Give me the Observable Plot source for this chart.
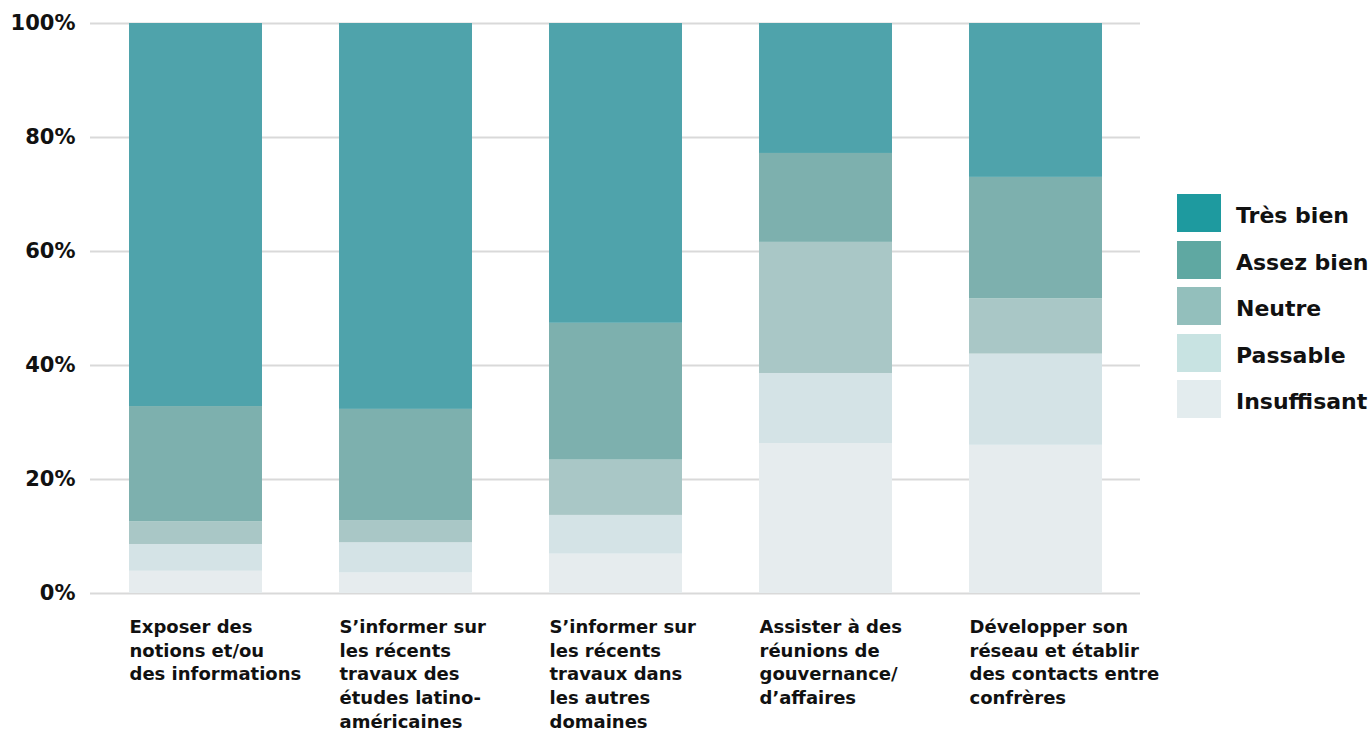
<!DOCTYPE html>
<html>
<head>
<meta charset="utf-8">
<script src="https://cdn.jsdelivr.net/npm/d3@7"></script>
<script src="https://cdn.jsdelivr.net/npm/@observablehq/plot@0.6"></script>
<style>
  html, body { margin: 0; padding: 0; background: #fff; }
  #wrap { position: relative; width: 1371px; height: 731px; font-family: "DejaVu Sans", sans-serif; }
  #legend { position: absolute; left: 1177px; top: 194px; }
  .item { display: flex; align-items: center; height: 38px; margin-bottom: 8.5px; }
  .sw { width: 44px; height: 38px; margin-right: 15px; }
  .lab { font-size: 22px; font-weight: bold; color: #111; white-space: nowrap; padding-top: 5px; }
</style>
</head>
<body>
<div id="wrap"><div id="chart"></div><div id="legend"></div></div>
<script>
const categories = [
  "Exposer des\nnotions et/ou\ndes informations",
  "S’informer sur\nles récents\ntravaux des\nétudes latino-\naméricaines",
  "S’informer sur\nles récents\ntravaux dans\nles autres\ndomaines",
  "Assister à des\nréunions de\ngouvernance/\nd’affaires",
  "Développer son\nréseau et établir\ndes contacts entre\nconfrères"
];
const levels = ["Insuffisant", "Passable", "Neutre", "Assez bien", "Très bien"];
const insuffisant = [3.9, 3.6, 6.9, 26.3, 26.0];
const passable    = [4.7, 5.3, 6.8, 12.3, 16.0];
const neutre      = [4.0, 3.9, 9.7, 23.0, 9.7];
const assezBien   = [20.2, 19.5, 24.0, 15.6, 21.3];
const tresBien    = [67.2, 67.7, 52.6, 22.8, 27.0];
const yTicks = [0, 20, 40, 60, 80, 100];

const barColors    = ["#e6ecee", "#d4e3e6", "#a9c7c6", "#7db0ae", "#4fa3ab"];
const legendColors = ["#e3ecee", "#c8e3e2", "#93bfbc", "#5fa8a2", "#1e9a9f"];

const series = [insuffisant, passable, neutre, assezBien, tresBien];
const rows = [];
categories.forEach((c, i) => levels.forEach((l, j) => rows.push({category: c, level: l, value: series[j][i]})));

const chart = Plot.plot({
  width: 1160,
  height: 731,
  marginLeft: 90,
  marginRight: 20,
  marginTop: 23,
  marginBottom: 138,
  style: {fontFamily: "DejaVu Sans, sans-serif", background: "#fff", color: "#111"},
  x: {domain: categories, paddingInner: 0.367, paddingOuter: 0.18, label: null},
  y: {domain: [0, 100], label: null},
  color: {domain: levels, range: barColors},
  marks: [
    Plot.ruleY(yTicks, {stroke: "#d9d9d9", strokeWidth: 2}),
    Plot.barY(rows, {x: "category", y: "value", fill: "level", order: levels}),
    Plot.axisY(yTicks, {tickSize: 0, tickPadding: 15, tickFormat: d => d + "%", fontSize: 21, fontWeight: "bold"}),
    Plot.axisX({tickSize: 0, tickPadding: 23, textAnchor: "start", dx: -66.5, fontSize: 18, fontWeight: "bold", lineHeight: 1.31, lineAnchor: "top", label: null})
  ]
});
document.getElementById("chart").appendChild(chart);

const legend = document.getElementById("legend");
for (let j = levels.length - 1; j >= 0; j--) {
  const it = document.createElement("div");
  it.className = "item";
  it.innerHTML = `<div class="sw" style="background:${legendColors[j]}"></div><div class="lab">${levels[j]}</div>`;
  legend.appendChild(it);
}
</script>
</body>
</html>
